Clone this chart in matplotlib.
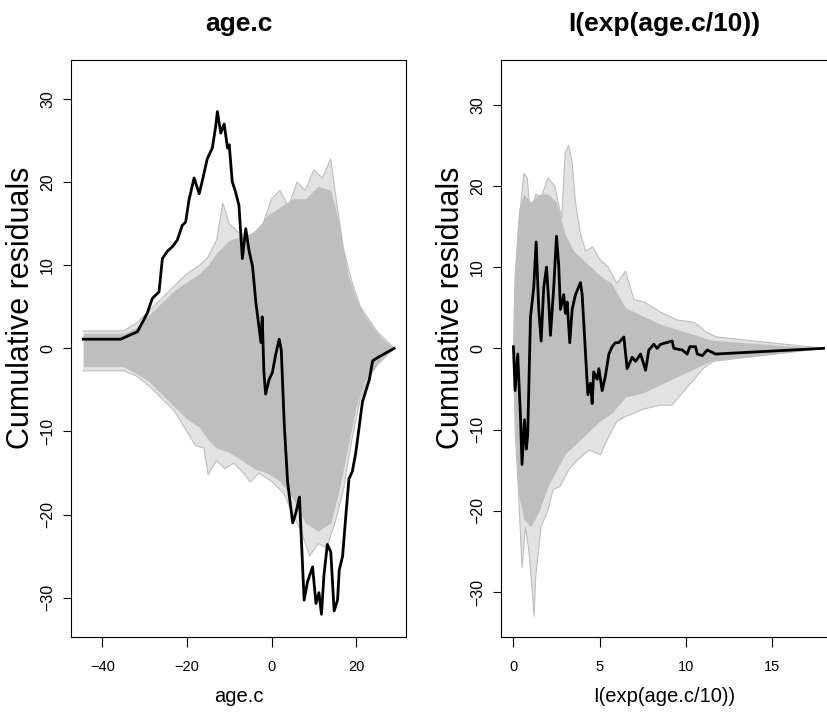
import matplotlib
matplotlib.use("Agg")
import matplotlib.pyplot as plt

plt.rcParams['font.family'] = ['Liberation Sans', 'DejaVu Sans']

# observed cumulative residuals, age.c panel
age_x = [-44.5, -35.7, -31.7, -29.4, -28.2, -26.6, -25.8, -24.6, -23.5, -22.3, -21.1,
         -20.3, -19.5, -18.3, -17.1, -16.3, -15.2, -14.0, -13.2, -12.8, -12.0, -11.2,
         -10.4, -10.0, -9.3, -8.5, -7.7, -6.9, -6.1, -5.3, -4.5, -3.7, -2.5, -2.2,
         -1.8, -1.4, -0.6, 0.2, 1.0, 1.8, 2.3, 3.0, 3.8, 5.0, 5.8, 6.6, 7.7, 8.5,
         9.7, 10.5, 11.2, 11.8, 12.4, 13.2, 14.0, 14.8, 15.6, 16.0, 16.8, 17.5,
         18.3, 19.1, 19.9, 20.7, 21.5, 22.3, 23.1, 23.9, 25.1, 29.0]
age_y = [1.1, 1.1, 2.0, 4.2, 6.0, 6.8, 10.8, 11.7, 12.2, 13.0, 14.8,
         15.2, 17.9, 20.5, 18.6, 20.3, 22.8, 24.1, 26.7, 28.5, 25.9, 27.0,
         24.1, 24.5, 20.1, 18.8, 17.2, 10.8, 14.4, 11.7, 9.9, 5.5, 0.7, 3.8,
         -2.9, -5.5, -3.8, -2.9, -0.7, 1.1, -0.2, -9.1, -16.1, -21.0, -19.7, -17.9, -30.3, -28.1,
         -26.3, -30.7, -29.4, -32.0, -27.2, -23.6, -24.5, -31.6, -30.3, -26.7, -25.0, -20.5,
         -15.7, -14.8, -12.6, -9.5, -6.4, -5.1, -3.8, -1.5, -1.1, 0.0]

# dense part of the simulated processes (age.c)
age_band_x = [-44.5, -35, -32, -29, -26, -23, -20, -17, -15, -13, -10, -7, -4, -1,
              2, 5, 8, 11, 14, 16, 18, 20, 22, 24, 26, 29]
age_band_hi = [1.8, 1.8, 2.5, 4, 5.5, 7, 8, 9, 10, 11.5, 13, 13.5, 14, 16,
               17, 18, 18, 19.5, 19, 15, 9, 6, 4, 2.5, 1.2, 0]
age_band_lo = [-2.2, -2.2, -3, -4, -5.5, -7, -8.5, -9.5, -11, -12, -12.5, -13.5, -14.5, -15,
               -16, -18, -21, -22, -21, -17, -12, -7, -4, -2.5, -1.2, 0]

# outlying simulated processes (age.c)
age_sim1_x = [-44.5, -35, -32, -29, -26, -23, -20, -17, -15, -13, -11.5, -10, -8, -5, -2,
              0, 2, 4, 6, 8, 10, 12, 14, 15, 17, 19, 21, 23, 25, 29]
age_sim1_y = [2.1, 2.1, 3.0, 4.5, 6.0, 7.5, 9.0, 10.0, 11.0, 13.0, 17.5, 15.0, 14.0, 13.5, 15.0,
              18.0, 19.0, 17.0, 20.0, 19.0, 21.5, 20.5, 22.8, 19.0, 12.0, 8.0, 5.0, 3.5, 2.0, 0]
age_sim2_x = [-44.5, -35, -32, -29, -26, -23, -20, -18, -16, -15, -13, -11, -9, -7, -5,
              -3, 0, 3, 5, 7, 9, 11, 13, 15, 17, 19, 21, 23, 25, 29]
age_sim2_y = [-2.7, -2.7, -3.3, -4.5, -6.0, -7.5, -10.0, -11.7, -12.0, -15.2, -13.5, -14.5, -13.8, -14.8, -16.1,
              -15.0, -16.0, -17.5, -20.0, -22.0, -25.0, -23.5, -24.0, -21.0, -17.0, -11.0, -6.0, -3.5, -2.0, 0]

# observed cumulative residuals, I(exp(age.c/10)) panel
exp_x = [0.0, 0.1, 0.25, 0.4, 0.5, 0.64, 0.75, 0.83, 0.89, 0.99, 1.18, 1.32, 1.47, 1.61,
         1.76, 1.92, 2.05, 2.15, 2.34, 2.50, 2.63, 2.73, 2.92, 3.02, 3.12, 3.27, 3.41,
         3.60, 3.89, 3.99, 4.32, 4.47, 4.57, 4.66, 4.86, 4.96, 5.15, 5.34, 5.54, 5.73,
         5.92, 6.11, 6.41, 6.60, 6.89, 7.09, 7.38, 7.67, 7.86, 8.15, 8.34, 8.54, 9.21,
         9.31, 9.80, 10.08, 10.24, 10.57, 10.67, 10.96, 11.25, 11.73, 18.0]
exp_y = [0.2, -5.2, -0.7, -7.9, -14.3, -8.8, -12.4, -10.6, -5.2, 3.8, 7.5, 13.1, 4.8, 0.9,
         7.5, 10.0, 5.7, 1.6, 7.5, 13.8, 10.2, 4.8, 6.6, 4.3, 5.7, 0.7, 4.8,
         6.6, 8.1, 6.6, -5.7, -4.3, -6.8, -2.9, -3.8, -2.5, -5.2, -3.4, -0.7, 0.2,
         0.7, 0.7, 1.4, -2.5, -1.1, -1.6, -0.7, -2.7, -0.2, 0.5, 0.0, 0.5, 0.9,
         0.0, -0.2, -0.7, 0.2, 0.2, -0.7, -0.9, -0.2, -0.7, 0.0]

# dense part of the simulated processes (exp panel)
exp_band_x = [0.0, 0.15, 0.3, 0.6, 1.0, 1.5, 2.0, 2.5, 3.0, 3.5, 4.0, 4.5, 5.0, 5.7,
              6.5, 7.5, 8.5, 10.0, 11.5, 18.0]
exp_band_hi = [5, 12, 17, 19, 18, 19, 19, 18, 14, 12, 11, 10, 9, 8,
               5, 4, 3, 2, 1, 0]
exp_band_lo = [-5, -12, -18, -21, -22, -20, -17, -15, -13, -12, -11, -10, -9, -8,
               -6, -5.5, -4.5, -3, -1.5, 0]

# outlying simulated processes (exp panel)
exp_sim1_x = [0, 0.1, 0.3, 0.6, 0.8, 1.0, 1.3, 1.6, 2.0, 2.4, 2.8, 3.0, 3.2, 3.4, 3.6,
              3.9, 4.2, 4.6, 5.0, 5.5, 6.0, 6.5, 7.0, 7.6, 8.5, 9.5, 10.5, 11.2, 11.8, 18.0]
exp_sim1_y = [0, 9, 15, 21.5, 21.0, 16, 19, 18.5, 21, 20, 16, 24, 25, 23, 18,
              14, 12, 12.5, 11, 10, 8, 9.5, 6, 5.7, 4.5, 3.5, 3.2, 2.0, 1.4, 0]
exp_sim2_x = [0, 0.1, 0.3, 0.5, 0.7, 0.9, 1.1, 1.2, 1.3, 1.6, 2.0, 2.3, 2.7, 3.2, 3.6,
              3.9, 4.4, 5.05, 5.5, 6.0, 6.5, 7.0, 7.5, 8.5, 9.2, 10.0, 10.5, 11.0, 11.6, 18.0]
exp_sim2_y = [0, -10, -18, -27, -22, -25, -30, -33, -28, -22, -20, -17.4, -17, -15, -14,
              -13.4, -12.5, -13.1, -11, -9, -8.4, -8, -7.5, -7, -7, -5, -3.8, -2.5, -1.6, 0]

W, H = 828, 719
fig = plt.figure(figsize=(W / 100, H / 100), dpi=100)

# axes boxes in pixel coords (left, right); right box runs off the image like the original
boxes = [(71, 406.5), (501, 836)]
top, bottom = 60, 636.7

panels = [
    dict(title="age.c", x=age_x, y=age_y, bx=age_band_x, hi=age_band_hi, lo=age_band_lo,
         sims=[(age_sim1_x, age_sim1_y), (age_sim2_x, age_sim2_y)],
         xlim=(-47.4, 31.9), ylim=(-34.7, 34.7), xticks=[-40, -20, 0, 20]),
    dict(title="I(exp(age.c/10))", x=exp_x, y=exp_y, bx=exp_band_x, hi=exp_band_hi, lo=exp_band_lo,
         sims=[(exp_sim1_x, exp_sim1_y), (exp_sim2_x, exp_sim2_y)],
         xlim=(-0.72, 18.72), ylim=(-35.5, 35.5), xticks=[0, 5, 10, 15]),
]

gray = "#BEBEBE"
yt = [-30, -20, -10, 0, 10, 20, 30]
for (x0, x1), p in zip(boxes, panels):
    ax = fig.add_axes([x0 / W, 1 - bottom / H, (x1 - x0) / W, (bottom - top) / H])

    # sparse outer region: polygon between the two outlying paths
    (ux, uy), (lx, ly) = p["sims"]
    ax.fill(list(ux) + list(lx[::-1]), list(uy) + list(ly[::-1]), color="#E2E2E2", lw=0)
    ax.fill_between(p["bx"], p["lo"], p["hi"], color=gray, lw=0)
    for sx, sy in p["sims"]:
        ax.plot(sx, sy, color=gray, lw=0.8)
    ax.plot(p["x"], p["y"], color="black", lw=2)

    ax.set_xlim(p["xlim"])
    ax.set_ylim(p["ylim"])
    ax.set_xticks(p["xticks"])
    ax.set_yticks(yt)
    ax.set_xticklabels([str(t).replace("-", "\u2212") for t in p["xticks"]])
    ax.set_yticklabels([str(t).replace("-", "\u2212") for t in yt], rotation=90, va="center")
    ax.tick_params(axis="x", length=7, width=0.8, labelsize=10.5, pad=10)
    ax.tick_params(axis="y", length=5.5, width=0.8, labelsize=11.5, pad=6)
    for s in ax.spines.values():
        s.set_linewidth(0.8)

    cx = (x0 + x1) / 2 if x1 < W else (x0 + 827) / 2
    fig.text(cx / W, 1 - 24 / H, p["title"], ha="center", va="center",
             fontsize=19, fontweight="bold")
    fig.text(cx / W, 1 - 696 / H, p["title"], ha="center", va="center", fontsize=14.5)
    fig.text((x0 - 50) / W, 1 - 308 / H, "Cumulative residuals", ha="center", va="center",
             rotation=90, fontsize=22)

fig.savefig("out.png", dpi=100)
